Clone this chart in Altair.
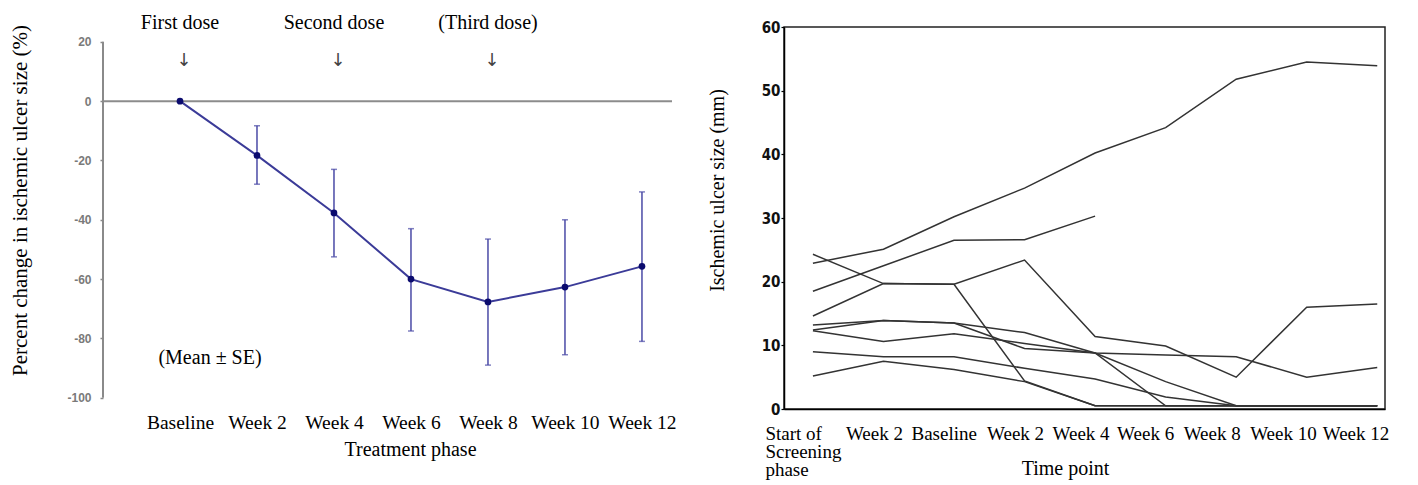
import json
import altair as alt
import pandas as pd

# ---------------- Left panel data ----------------
phase_labels = ["Baseline", "Week 2", "Week 4", "Week 6", "Week 8", "Week 10", "Week 12"]
mean_change = [0.0, -18.3, -37.7, -60.0, -67.7, -62.7, -55.7]
se_upper = [0.0, -8.3, -23.0, -43.0, -46.5, -40.0, -30.6]
se_lower = [0.0, -28.0, -52.5, -77.5, -89.0, -85.5, -81.0]
left_ticks = [-100, -80, -60, -40, -20, 0, 20]
dose_labels = ["First dose", "Second dose", "(Third dose)"]
dose_index = [0, 2, 4]
note_text = ["(Mean \u00b1 SE)"]

# ---------------- Right panel data ----------------
time_labels = ["Start of|Screening|phase", "Week 2", "Baseline", "Week 2", "Week 4",
               "Week 6", "Week 8", "Week 10", "Week 12"]
right_ticks = [0, 10, 20, 30, 40, 50, 60]
ulcer_p1 = [22.9, 25.1, 30.2, 34.7, 40.2, 44.2, 51.8, 54.5, 53.9]
ulcer_p2 = [18.5, 22.5, 26.5, 26.6, 30.3, None, None, None, None]
ulcer_p3 = [24.3, 19.7, 19.6, 23.4, 11.4, 9.9, 5.0, 16.0, 16.5]
ulcer_p4 = [14.6, 19.7, 19.6, 4.4, 0.5, 0.5, 0.5, 0.5, 0.5]
ulcer_p5 = [13.2, 13.9, 13.5, 12.0, 8.8, 4.3, 0.5, 0.5, 0.5]
ulcer_p6 = [12.4, 13.9, 13.5, 9.5, 8.8, 8.5, 8.2, 5.0, 6.5]
ulcer_p7 = [12.3, 10.6, 11.8, 10.3, 8.8, 0.5, 0.5, 0.5, 0.5]
ulcer_p8 = [9.0, 8.2, 8.2, 6.4, 4.7, 1.9, 0.5, 0.5, 0.5]
ulcer_p9 = [5.2, 7.5, 6.2, 4.3, 0.5, 0.5, 0.5, 0.5, 0.5]
patients = [ulcer_p1, ulcer_p2, ulcer_p3, ulcer_p4, ulcer_p5, ulcer_p6, ulcer_p7, ulcer_p8, ulcer_p9]

SERIF = "Liberation Serif"
NARROW = "'Liberation Sans Narrow', 'DejaVu Sans Condensed', 'Liberation Sans', sans-serif"

# ---------------- Left panel ----------------
left_df = pd.DataFrame({"idx": list(range(len(phase_labels))), "mean": mean_change,
                        "hi": se_upper, "lo": se_lower})
err_df = left_df[left_df["hi"] != left_df["lo"]]

xL_scale = alt.Scale(domain=[-1.0, 6.39], nice=False, zero=False)
yL_scale = alt.Scale(domain=[-103.8, 25], nice=False, zero=False)

left_label_expr = json.dumps(phase_labels) + "[datum.value]"

xL_axis = alt.Axis(values=list(range(len(phase_labels))), labelExpr=left_label_expr,
                   domain=False, ticks=False, grid=False, labelOverlap=False,
                   labelFlush=False, labelBound=False, labelFont=SERIF, labelFontSize=19.5,
                   labelColor="black", labelPadding=4, title="Treatment phase",
                   titleFont=SERIF, titleFontSize=20, titleFontWeight="normal",
                   titleColor="black", titleX=307, titleY=46, titleAnchor="middle",
                   titleAlign="center", titleBaseline="alphabetic")
yL_axis = alt.Axis(values=left_ticks, labelExpr="'' + datum.value", domain=False, grid=False,
                   ticks=True, tickSize=3, tickColor="#8a8a8a", tickWidth=1.5,
                   labelFont="Liberation Sans", labelFontSize=12, labelFontWeight="bold",
                   labelColor="#7a7a7a", labelPadding=9,
                   title="Percent change in ischemic ulcer size (%)", titleFont=SERIF,
                   titleFontSize=21, titleFontWeight="normal", titleColor="black",
                   titleAngle=270, titleX=-83, titleY=173, titleAlign="center",
                   titleBaseline="middle")

xL = alt.X("idx:Q", scale=xL_scale, axis=xL_axis)

line_l = alt.Chart(left_df).mark_line(color="#3b3b98", strokeWidth=2).encode(
    x=xL,
    y=alt.Y("mean:Q", scale=yL_scale, axis=yL_axis),
)
axis_line = alt.Chart(pd.DataFrame({"a": [0]})).mark_rule(color="#8a8a8a", strokeWidth=2).encode(
    x=alt.value(0), y=alt.datum(-100), y2=alt.datum(20))
zero_line = alt.Chart(pd.DataFrame({"a": [0]})).mark_rule(color="#8c8c8c", strokeWidth=2).encode(
    y=alt.datum(0))
err_rule = alt.Chart(err_df).mark_rule(color="#4a4aa6", strokeWidth=1.5).encode(
    x=xL, y=alt.Y("lo:Q", scale=yL_scale), y2="hi:Q")
cap_hi = alt.Chart(err_df).mark_tick(color="#4a4aa6", orient="horizontal", size=6, thickness=1.5).encode(
    x=xL, y=alt.Y("hi:Q", scale=yL_scale))
cap_lo = alt.Chart(err_df).mark_tick(color="#4a4aa6", orient="horizontal", size=6, thickness=1.5).encode(
    x=xL, y=alt.Y("lo:Q", scale=yL_scale))
pts = alt.Chart(left_df).mark_circle(color="#0b0b6e", size=45, opacity=1).encode(
    x=xL, y=alt.Y("mean:Q", scale=yL_scale))

dose_df = pd.DataFrame({"idx": dose_index, "label": dose_labels})
dose_text = alt.Chart(dose_df).mark_text(font=SERIF, fontSize=20, color="black",
                                         baseline="middle", align="center").encode(
    x=xL, y=alt.datum(26.3), text="label:N")
dose_arrow = alt.Chart(dose_df).mark_text(font="DejaVu Sans", fontSize=18, fontWeight="normal",
                                          color="#444444", baseline="middle", align="center",
                                          dx=4, text="\u2193").encode(
    x=xL, y=alt.datum(13.5))
note = alt.Chart(pd.DataFrame({"t": note_text})).mark_text(
    font=SERIF, fontSize=20, color="black", baseline="middle", align="center").encode(
    x=alt.datum(0.39), y=alt.datum(-86.6), text="t:N")

left = alt.layer(line_l, zero_line, axis_line, err_rule, cap_hi, cap_lo, pts,
                 dose_text, dose_arrow, note).properties(
    width=569, height=382, view=alt.ViewBackground(stroke="transparent"))

# ---------------- Right panel ----------------
rows = []
for p, vals in enumerate(patients):
    for i, v in enumerate(vals):
        if v is not None:
            rows.append({"patient": f"P{p + 1}", "idx": i, "size": v})
right_df = pd.DataFrame(rows)

right_label_expr = "split(" + json.dumps(time_labels) + "[datum.value], '|')"

label_offset = {
    "condition": [
        {"test": "datum.value == 0", "value": -48},
        {"test": "datum.value == 2", "value": -43},
        {"test": "datum.value == 4", "value": -43},
        {"test": "datum.value == 5", "value": -49},
        {"test": "datum.value == 6", "value": -53},
        {"test": "datum.value == 7", "value": -57},
        {"test": "datum.value == 8", "value": -55},
    ],
    "value": -38,
}

xR_axis = alt.Axis(values=list(range(len(time_labels))), labelExpr=right_label_expr,
                   domain=True, domainColor="black", domainWidth=1.5, ticks=False, grid=False,
                   labelOverlap=False, labelFlush=False, labelBound=False, labelFont=SERIF,
                   labelFontSize=19, labelColor="black", labelAlign="left",
                   labelOffset=label_offset,
                   labelPadding=15, labelLineHeight=18, title="Time point", titleFont=SERIF,
                   titleFontSize=20, titleFontWeight="normal", titleColor="black",
                   titleX=281, titleY=65, titleAlign="center", titleBaseline="alphabetic")
yR_axis = alt.Axis(values=right_ticks, domain=True, domainColor="black", domainWidth=1.5,
                   grid=False, ticks=True, tickSize=3, tickColor="black", tickWidth=1.2,
                   labelFont=NARROW, labelFontSize=15, labelFontWeight="bold",
                   labelColor="#111111", labelPadding=1,
                   title="Ischemic ulcer size (mm)", titleFont=SERIF, titleFontSize=20,
                   titleFontWeight="normal", titleColor="black", titleAngle=270,
                   titleX=-67, titleY=163, titleAlign="center", titleBaseline="middle")

right = alt.Chart(right_df).mark_line(color="#333333", strokeWidth=1.5).encode(
    x=alt.X("idx:Q", scale=alt.Scale(domain=[-0.41, 8.11], nice=False, zero=False), axis=xR_axis),
    y=alt.Y("size:Q", scale=alt.Scale(domain=[0, 60], nice=False, zero=False), axis=yR_axis),
    detail="patient:N",
).properties(width=601, height=382,
             view=alt.ViewBackground(stroke="#222222", strokeWidth=1.5))

chart = alt.HConcatChart(hconcat=[left, right], spacing=112, bounds="flush",
                         padding={"left": 0, "top": 4, "right": 0, "bottom": 0},
                         background="white")

chart.save("out.html", embed_options={"renderer": "svg", "actions": False})
